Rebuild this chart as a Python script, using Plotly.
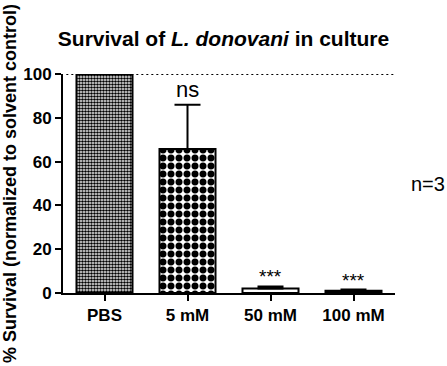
import plotly.graph_objects as go

categories = ["PBS", "5 mM", "50 mM", "100 mM"]
survival = [100, 65.7, 2.0, 1.0]
error_up = [0, 20.3, 1.0, 0.6]
significance = ["", "ns", "***", "***"]
fill_colors = ["white", "white", "white", "black"]
pattern_shapes = [".", ".", "", ""]
pattern_sizes = [3, 8, 6, 6]

FONT = "Liberation Sans, Arial, sans-serif"

fig = go.Figure()
for c, v, e, col, ps, sz in zip(categories, survival, error_up, fill_colors, pattern_shapes, pattern_sizes):
    pat = dict(shape=ps, size=sz, solidity=0.6, fgcolor="black", bgcolor="white",
               fillmode="replace") if ps else None
    fig.add_trace(go.Bar(
        x=[c], y=[v], width=0.675,
        marker=dict(color=col, line=dict(color="black", width=2), pattern=pat),
        error_y=dict(type="data", symmetric=False, array=[e], arrayminus=[0],
                     color="black", thickness=2, width=13),
        cliponaxis=False,
    ))

for c, v, e, s in zip(categories, survival, error_up, significance):
    if s:
        fig.add_annotation(x=c, y=v + e, text=s, showarrow=False, yanchor="bottom",
                           yshift=1 if s == "ns" else -3,
                           font=dict(size=22 if s == "ns" else 19, family=FONT, color="black"))

fig.add_shape(type="line", xref="paper", yref="y", x0=0.01, x1=1, y0=100, y1=100,
              line=dict(color="black", width=2, dash="2px,3px"))

fig.add_annotation(xref="paper", yref="paper", x=1.1, y=0.5, xanchor="center", text="n=3",
                   showarrow=False, font=dict(size=20, family=FONT, color="black"))

fig.update_layout(
    width=447, height=366,
    margin=dict(l=63, r=52, t=74, b=73),
    plot_bgcolor="white", paper_bgcolor="white",
    showlegend=False, barmode="overlay",
    title=dict(text="<b>Survival of <i>L. donovani</i> in culture</b>", x=0.5, xanchor="center",
               y=1 - 39/366, yanchor="middle", yref="container",
               font=dict(size=21, family=FONT, color="black")),
    font=dict(family=FONT, color="black"),
)
fig.update_xaxes(range=[-0.5, 3.5], showline=True, linecolor="black", linewidth=2,
                 ticks="outside", ticklen=6, tickwidth=2, tickcolor="black", automargin=False,
                 tickfont=dict(size=17, family=FONT, color="black", weight="bold"),
                 showgrid=False, zeroline=False)
fig.update_yaxes(range=[0, 100], tickvals=[0, 20, 40, 60, 80, 100], showline=True,
                 linecolor="black", linewidth=2, ticks="outside", ticklen=6, tickwidth=2,
                 tickcolor="black", showgrid=False, zeroline=False, automargin=False,
                 tickfont=dict(size=17, family=FONT, color="black", weight="bold"),
                 title=dict(text="% Survival (normalized to solvent control)", standoff=8,
                            font=dict(size=18, family=FONT, color="black", weight="bold")))

fig.write_html("out.html", config={"displayModeBar": False},
               post_script="document.body.style.margin='0';")
